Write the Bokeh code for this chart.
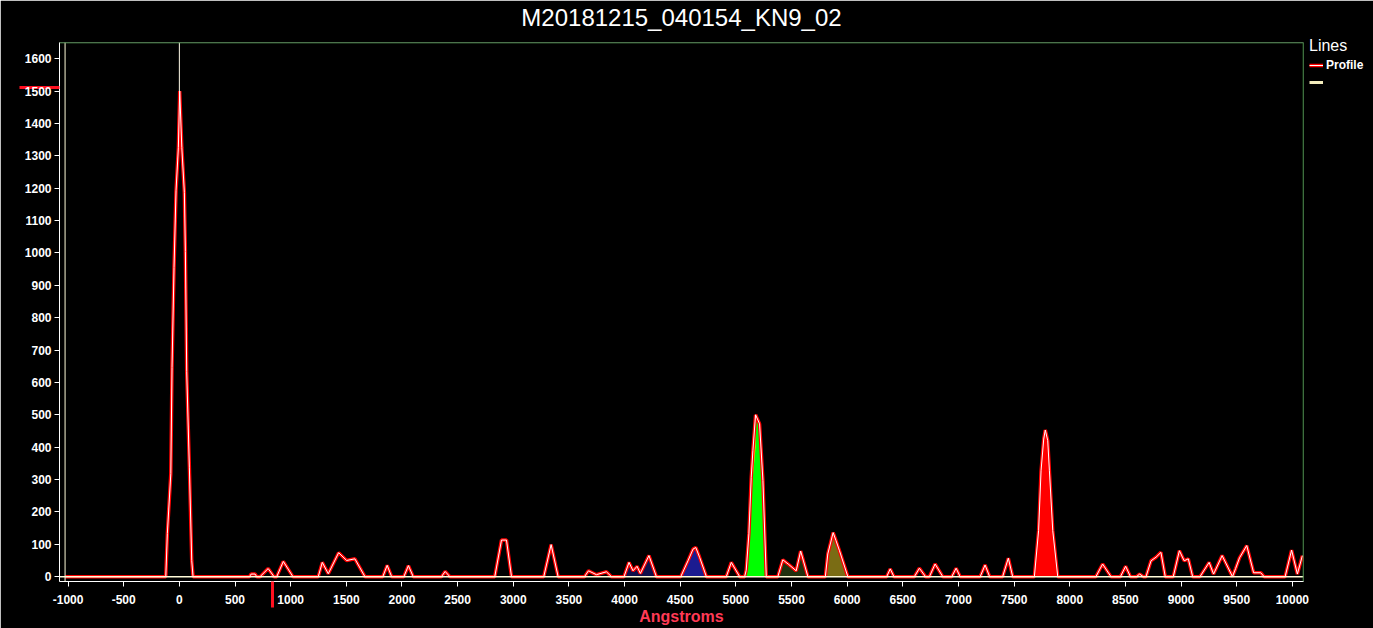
import numpy as np
from bokeh.plotting import figure
from bokeh.models import (Range1d, FixedTicker, Span, Legend, LegendItem, ColumnDataSource,
                          LinearAxis)
from bokeh.embed import file_html
from bokeh.resources import INLINE

# ---------------- data ----------------
title_text = "M20181215_040154_KN9_02"
x_label = "Angstroms"

profile_wl = [
    -1025, -122, -108, -77, -66, -48, -30, -9, 3, 22, 45, 54, 66, 90, 111, 123,
    630, 645, 680, 695, 725, 798, 850, 875, 934, 1020,
    1248, 1284, 1338, 1431, 1503, 1577, 1667,
    1828, 1867, 1907, 2017, 2058, 2101, 2355, 2388, 2430,
    2834, 2894, 2939, 2984, 3274, 3340, 3403,
    3640, 3676, 3747, 3837, 3882,
    3995, 4040, 4076, 4112, 4142, 4219, 4286,
    4505, 4570, 4615, 4640, 4674, 4735,
    4914, 4959, 5034,
    5079, 5093, 5117, 5138, 5153, 5177, 5213, 5243, 5273,
    5377, 5422, 5470, 5542, 5582, 5647,
    5804, 5826, 5874, 5900, 5931, 6006,
    6355, 6387, 6420, 6604, 6649, 6704, 6739, 6790, 6859,
    6940, 6979, 7015, 7195, 7239, 7280, 7397, 7448, 7487,
    7682, 7720, 7742, 7766, 7780, 7802, 7817, 7847, 7892,
    8235, 8295, 8370, 8455, 8502, 8545, 8600, 8628, 8660,
    8685, 8730, 8775, 8819, 8858,
    8930, 8985, 9028, 9065, 9104,
    9170, 9252, 9292, 9369, 9462,
    9490, 9525, 9590, 9652, 9716, 9746,
    9935, 9993, 10045, 10090,
]
profile_val = [
    0, 0, 133, 318, 646, 955, 1192, 1325, 1500, 1325, 1186, 1004, 633, 336, 50, 0,
    0, 8, 8, 0, 0, 25, 0, 0, 47, 0,
    0, 44, 9, 74, 50, 55, 0,
    0, 35, 0, 0, 34, 0, 0, 16, 0,
    0, 113, 113, 0, 0, 99, 0,
    0, 18, 6, 15, 0,
    0, 44, 18, 32, 10, 65, 0,
    0, 49, 85, 90, 60, 0,
    0, 44, 0,
    0, 20, 132, 307, 389, 500, 472, 297, 0,
    0, 52, 39, 18, 79, 0,
    0, 70, 136, 111, 80, 0,
    0, 24, 0, 0, 26, 0, 0, 39, 0,
    0, 26, 0, 0, 36, 0, 0, 57, 0,
    0, 142, 327, 425, 453, 420, 327, 142, 0,
    0, 39, 0, 0, 32, 0, 0, 8, 0,
    0, 49, 60, 75, 0,
    0, 80, 49, 55, 0,
    0, 44, 8, 65, 0,
    25, 58, 96, 12, 12, 0,
    0, 82, 8, 65,
]

# coloured regions under the profile (start, end in Angstroms)
band_start = [3995, 4505, 5079, 5377, 5804, 7682]
band_end = [4286, 4735, 5273, 5647, 6006, 7892]
band_color = ["#15156a", "#1e1ea0", "#00ff00", "#283c12", "#7a6c14", "#ff0000"]
band_alpha = [0.7, 0.9, 1.0, 0.8, 1.0, 1.0]
# yellow highlight on the green line
hl_start, hl_end, hl_depth = 5138, 5177, 0.8

marker_wl = [0]          # vertical reference line
y_marker_val = 1510      # red marker on the y axis
x_marker_wl = 841        # red marker on the x axis

x_ticks = list(range(-1000, 10001, 500))
y_ticks = list(range(0, 1601, 100))

x_lo, x_hi = -1077, 10100
y_lo, y_hi = -15, 1650

# ---------------- figure ----------------
FONT = "Liberation Sans"
FRAME_H = 539
p = figure(frame_width=1244, frame_height=FRAME_H, output_backend="svg", toolbar_location=None,
           title=None,
           x_range=Range1d(x_lo, x_hi), y_range=Range1d(y_lo, y_hi),
           background_fill_color="black", border_fill_color="black",
           min_border_left=59, min_border_right=70, min_border_top=42, min_border_bottom=47)
p.outline_line_color = None
p.grid.visible = False

xa = p.below[0]
ya = p.left[0]

# title, carried by a bare axis above the frame
title_axis = LinearAxis(ticker=FixedTicker(ticks=[]), axis_label=title_text,
                        axis_line_color=None, major_tick_line_color=None,
                        minor_tick_line_color=None, major_tick_out=0, minor_tick_out=0,
                        major_tick_in=0, minor_tick_in=0,
                        major_label_text_font_size="0px", major_label_standoff=0,
                        axis_label_standoff=12, axis_label_text_color="white",
                        axis_label_text_font=FONT, axis_label_text_font_size="24px",
                        axis_label_text_font_style="normal")
p.add_layout(title_axis, "above")

wl = np.array(profile_wl, dtype=float)
val = np.array(profile_val, dtype=float)

for s, e, c, a in zip(band_start, band_end, band_color, band_alpha):
    m = (wl >= s) & (wl <= e)
    p.varea(x=wl[m], y1=np.zeros(m.sum()), y2=val[m], fill_color=c, fill_alpha=a)

m = (wl >= hl_start) & (wl <= hl_end)
p.varea(x=wl[m], y1=val[m] * hl_depth, y2=val[m], fill_color="#ffff00")

# frame lines
p.add_layout(Span(location=0, dimension="width", line_color="#fffbd8", line_width=1.5))
p.add_layout(Span(location=x_lo + 50, dimension="height", line_color="#fffbd8", line_width=1))
p.add_layout(Span(location=y_hi, dimension="width", line_color="#5aa85a", line_width=1.5))
p.add_layout(Span(location=x_hi, dimension="height", line_color="#3c9a3c", line_width=1.5))

src = ColumnDataSource(dict(x=wl, y=val))
red_r = p.line("x", "y", source=src, line_color="#ff0000", line_width=3.5)
white_r = p.line("x", "y", source=src, line_color="white", line_width=1)

mk = ColumnDataSource(dict(x=[marker_wl[0], marker_wl[0]], y=[max(profile_val), y_hi]))
p.line("x", "y", source=mk, line_color="#fffbe8", line_width=1)
mk_legend = p.line(x=[np.nan], y=[np.nan], line_color="#f3ecbc", line_width=3)

# axes
for ax in (xa, ya):
    ax.axis_line_color = "white"
    ax.major_tick_line_color = "white"
    ax.major_tick_out = 5
    ax.major_tick_in = 0
    ax.minor_tick_line_color = "#ff1020"
    ax.minor_tick_line_width = 3
    ax.minor_tick_in = 0
    ax.major_label_text_color = "white"
    ax.major_label_text_font = FONT
    ax.major_label_text_font_style = "bold"
    ax.major_label_text_font_size = "12px"

# the red axis markers are drawn as the axes' (single) minor ticks
xa.ticker = FixedTicker(ticks=x_ticks, minor_ticks=[x_marker_wl])
ya.ticker = FixedTicker(ticks=y_ticks, minor_ticks=[y_marker_val])
xa.minor_tick_out = 26
ya.minor_tick_out = 40
xa.major_label_overrides = {t: str(t) for t in x_ticks}
# labels are placed after the longest tick, so pull them back in
xa.major_label_standoff = 8 - 21
ya.major_label_standoff = 3 - 35
xa.axis_label = x_label
xa.axis_label_text_color = "#ff3a55"
xa.axis_label_text_font = FONT
xa.axis_label_text_font_style = "bold"
xa.axis_label_text_font_size = "16px"
xa.axis_label_standoff = 1

LEG_H = 52
legend = Legend(items=[LegendItem(label="Profile", renderers=[red_r, white_r]),
                       LegendItem(label=" ", renderers=[mk_legend])],
                title="Lines", location=(6, FRAME_H - LEG_H + 5))
legend.background_fill_color = "black"
legend.background_fill_alpha = 0
legend.border_line_color = None
legend.label_text_color = "white"
legend.label_text_font = FONT
legend.label_text_font_style = "bold"
legend.label_text_font_size = "12px"
legend.title_text_color = "white"
legend.title_text_font = FONT
legend.title_text_font_style = "normal"
legend.title_text_font_size = "16px"
legend.title_standoff = 3
legend.glyph_width = 14
legend.glyph_height = 12
legend.label_height = 14
legend.label_standoff = 3
legend.spacing = 3
legend.padding = 0
legend.margin = 0
p.add_layout(legend, "right")

open("out.html", "w").write(file_html(p, INLINE))
